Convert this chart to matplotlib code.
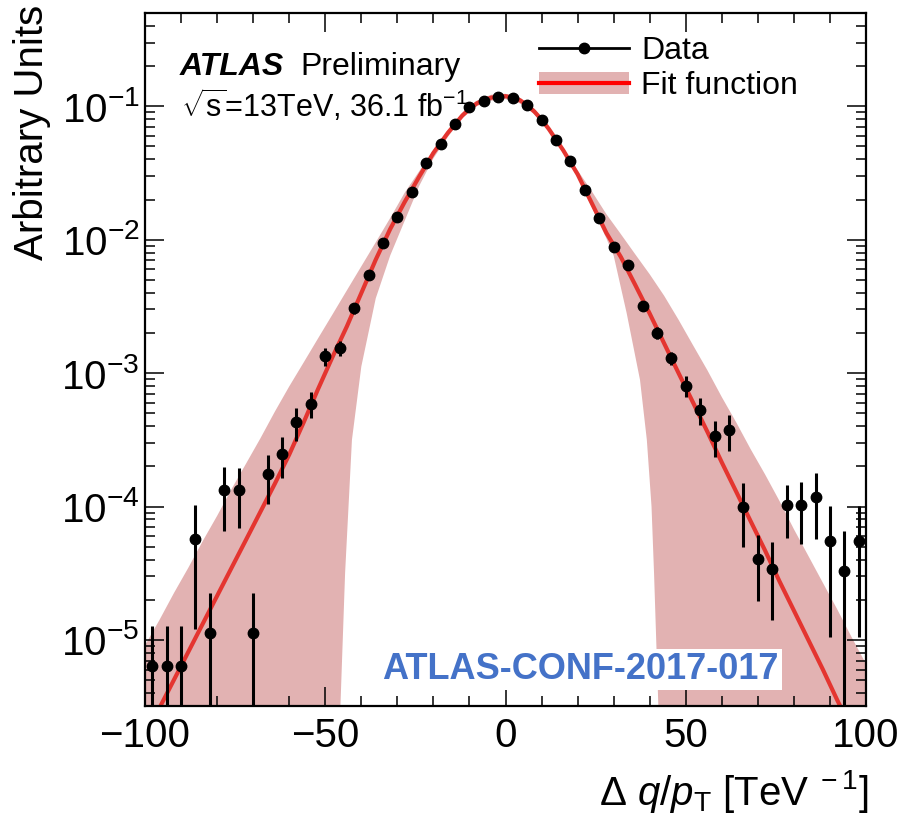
import numpy as np
import matplotlib
matplotlib.use("Agg")
import matplotlib.pyplot as plt
from matplotlib.lines import Line2D
from matplotlib.patches import Patch
from matplotlib.ticker import MultipleLocator, LogLocator, NullFormatter

plt.rcParams["font.family"] = ["Liberation Sans", "DejaVu Sans"]
plt.rcParams["mathtext.fontset"] = "custom"
plt.rcParams["mathtext.rm"] = "Liberation Sans"
plt.rcParams["mathtext.it"] = "Liberation Sans:italic"
plt.rcParams["mathtext.bf"] = "Liberation Sans:bold"

# ── 数据点 ─────────────────────────────────────────────────
bin_x = [-98, -94, -90, -86, -82, -78, -74, -70, -66, -62, -58, -54, -50,
         -46, -42, -38, -34, -30, -26, -22, -18, -14, -10, -6, -2,
         2, 6, 10, 14, 18, 22, 26, 30, 34, 38, 42, 46, 50, 54, 58, 62,
         66, 70, 74, 78, 82, 86, 90, 94, 98]
data_y = [6.4e-6, 6.4e-6, 6.4e-6, 5.7e-5, 1.13e-5, 1.32e-4, 1.32e-4, 1.13e-5,
          1.74e-4, 2.48e-4, 4.28e-4, 5.9e-4, 1.34e-3, 1.55e-3, 3.07e-3,
          5.43e-3, 9.5e-3, 1.48e-2, 2.27e-2, 3.73e-2, 5.25e-2, 7.3e-2,
          9.8e-2, 0.110, 0.118,
          0.115, 0.102, 7.85e-2, 5.56e-2, 3.9e-2, 2.34e-2, 1.46e-2, 8.8e-3,
          6.5e-3, 3.2e-3, 2.0e-3, 1.3e-3, 8.07e-4, 5.3e-4, 3.37e-4, 3.73e-4,
          1.0e-4, 4.05e-5, 3.4e-5, 1.02e-4, 1.02e-4, 1.17e-4, 5.55e-5,
          3.3e-5, 5.55e-5]
data_err = [6.4e-6, 6.4e-6, 6.4e-6, 4.5e-5, 1.13e-5, 6.6e-5, 6.3e-5, 1.13e-5,
            7.0e-5, 8.5e-5, 1.2e-4, 1.3e-4, 2.0e-4, 2.0e-4, 3.0e-4,
            3.0e-4, 4.0e-4, 5e-4, 6e-4, 6e-4, 7e-4, 8e-4,
            9e-4, 9e-4, 1e-3,
            1e-3, 9e-4, 8e-4, 7e-4, 6e-4, 6e-4, 5e-4, 4e-4,
            3e-4, 2.5e-4, 2e-4, 1.5e-4, 1.5e-4, 1.2e-4, 1.0e-4, 1.1e-4,
            5.0e-5, 2.1e-5, 2.0e-5, 4.4e-5, 5.0e-5, 6.0e-5, 4.5e-5,
            3.3e-5, 4.5e-5]

# ── 拟合函数（沿红线读数） ─────────────────────────────────────
fit_x = [-100, -96, -92, -88, -84, -80, -76, -72, -68, -64, -60, -56, -52,
         -48, -44, -40, -36, -32, -28, -24, -20, -16, -14, -12, -10, -8,
         -6, -4, -2, 0, 2, 4, 6, 8, 10, 12, 14, 16, 20, 24, 28, 32, 36,
         40, 44, 48, 52, 56, 60, 64, 68, 72, 76, 80, 84, 88, 92, 96, 100]
fit_y = [1.91e-6, 3.09e-6, 5.01e-6, 8.13e-6, 1.32e-5, 2.14e-5, 3.47e-5,
         5.62e-5, 9.12e-5, 1.48e-4, 2.45e-4, 4.27e-4, 7.59e-4,
         1.32e-3, 2.24e-3, 3.98e-3, 7.08e-3, 1.20e-2, 1.91e-2, 2.95e-2,
         4.47e-2, 6.31e-2, 7.33e-2, 8.51e-2, 9.55e-2, 0.105,
         0.111, 0.116, 0.118, 0.119, 0.116, 0.111, 0.102, 9.12e-2, 7.94e-2,
         6.76e-2, 5.62e-2, 4.68e-2, 3.09e-2, 1.86e-2, 1.12e-2, 7.41e-3,
         4.57e-3, 2.79e-3, 1.67e-3, 1.00e-3, 6.03e-4, 3.63e-4, 2.14e-4,
         1.29e-4, 7.76e-5, 4.68e-5, 2.75e-5, 1.66e-5, 1.00e-5, 6.03e-6,
         3.55e-6, 2.14e-6, 1.29e-6]

# ── 误差带上下边缘 ───────────────────────────────────────────
band_up_x = [-100, -96, -92, -88, -84, -80, -76, -72, -68, -64, -60, -56,
             -52, -48, -44, -40, -36, -32, -28, -24, -20, -16, -12, -8, -4,
             0, 4, 8, 12, 16, 20, 24, 28, 32, 36, 40, 44, 48, 52, 56, 60,
             64, 68, 72, 76, 80, 84, 88, 92, 96, 100]
band_up_y = [9.12e-6, 1.41e-5, 2.24e-5, 3.47e-5, 5.50e-5, 8.51e-5, 1.35e-4,
             2.09e-4, 3.24e-4, 5.13e-4, 7.94e-4, 1.20e-3, 1.82e-3, 2.75e-3,
             4.17e-3, 6.31e-3, 9.55e-3, 1.45e-2, 2.24e-2, 3.24e-2, 4.68e-2,
             6.61e-2, 8.91e-2, 0.110, 0.122, 0.124, 0.116, 9.55e-2, 7.08e-2,
             4.90e-2, 3.31e-2, 2.29e-2, 1.55e-2, 1.10e-2, 7.76e-3, 5.50e-3,
             3.80e-3, 2.51e-3, 1.62e-3, 1.05e-3, 6.61e-4, 4.27e-4, 2.69e-4,
             1.74e-4, 1.10e-4, 6.76e-5, 4.27e-5, 2.69e-5, 1.70e-5, 1.05e-5,
             6.61e-6]
band_lo_x = [-100, -46.2, -45.8, -44.5, -42.6, -40, -36, -32, -28, -24, -20,
             -16, -12, -8, -4, 0, 4, 8, 12, 16, 20, 24, 28, 30, 33.6, 37.3,
             39.2, 40.5, 41.2, 42.4, 42.8, 100]
band_lo_y = [1e-8, 1e-8, 3.16e-6, 3.16e-5, 3.16e-4, 1.12e-3, 3.63e-3, 7.59e-3,
             1.38e-2, 2.51e-2, 4.07e-2, 5.89e-2, 8.13e-2, 0.100, 0.110, 0.113,
             0.105, 8.71e-2, 6.46e-2, 4.47e-2, 2.95e-2, 1.74e-2, 1.02e-2,
             7.59e-3, 2.82e-3, 8.91e-4, 3.16e-4, 1.0e-4, 3.16e-5, 3.16e-6,
             1e-8, 1e-8]

BAND_COLOR = "#e2b2b2"
FIT_COLOR = "#e43530"

fig = plt.figure(figsize=(9.04, 8.16), dpi=100)
ax = fig.add_axes([0.1604, 0.1348, 0.7976, 0.8493])
ax.set_yscale("log")

poly_x = band_up_x + band_lo_x[::-1]
poly_y = band_up_y + band_lo_y[::-1]
ax.fill(poly_x, poly_y, color=BAND_COLOR, lw=0, zorder=1)
ax.plot(fit_x, fit_y, color=FIT_COLOR, lw=3.0, zorder=2)
ax.errorbar(bin_x, data_y, yerr=data_err, fmt="o", color="black", ms=7.5,
            elinewidth=2.2, capsize=0, zorder=3)

ax.set_xlim(-100, 100)
ax.set_ylim(3.2e-6, 0.5)

ax.xaxis.set_major_locator(MultipleLocator(50))
ax.xaxis.set_minor_locator(MultipleLocator(10))
ax.yaxis.set_major_locator(LogLocator(base=10, numticks=20))
ax.yaxis.set_minor_locator(LogLocator(base=10, subs=np.arange(2, 10), numticks=20))
ax.yaxis.set_minor_formatter(NullFormatter())

ax.tick_params(which="both", direction="in", top=True, right=True,
               labelsize=29, width=1.1)
ax.tick_params(which="major", length=14)
ax.tick_params(which="minor", length=7.5)
ax.tick_params(axis="x", pad=8)
ax.tick_params(axis="y", pad=4)
for sp in ax.spines.values():
    sp.set_linewidth(1.6)

ax.set_ylabel("Arbitrary Units", fontsize=29, loc="top")
ax.yaxis.set_label_coords(-0.130, 1.012)
ax.set_xlabel(r"$\Delta\ q/p_{\rm T}$ [TeV$^{\rm\ -1}$]", fontsize=29, loc="right")
ax.xaxis.set_label_coords(1.003, -0.09)

ax.text(0.048, 0.91, "ATLAS", transform=ax.transAxes, fontsize=23,
        fontweight="bold", fontstyle="italic")
ax.text(0.215, 0.91, "Preliminary", transform=ax.transAxes, fontsize=23)
ax.text(0.05, 0.85, r"$\sqrt{\mathrm{s}}$=13TeV, 36.1 fb$^{-1}$",
        transform=ax.transAxes, fontsize=22)

ax.text(0.604, 0.053, "ATLAS-CONF-2017-017", transform=ax.transAxes,
        fontsize=26, fontweight="bold", color="#4472c8", ha="center",
        va="center", zorder=5,
        bbox=dict(facecolor="white", edgecolor="none", pad=2))

h_data = Line2D([], [], color="black", marker="o", ms=7.5, lw=2)
h_band = Patch(facecolor=BAND_COLOR, edgecolor="none")
h_fit = Line2D([], [], color="#ff0000", lw=3)
ax.legend([h_data, (h_band, h_fit)], ["Data", "Fit function"],
          loc="upper left", bbox_to_anchor=(0.52, 0.994), frameon=False,
          fontsize=23, handlelength=2.8, handletextpad=0.4,
          labelspacing=0.15, borderaxespad=0.2, numpoints=1)

fig.savefig("out.png", dpi=100)
